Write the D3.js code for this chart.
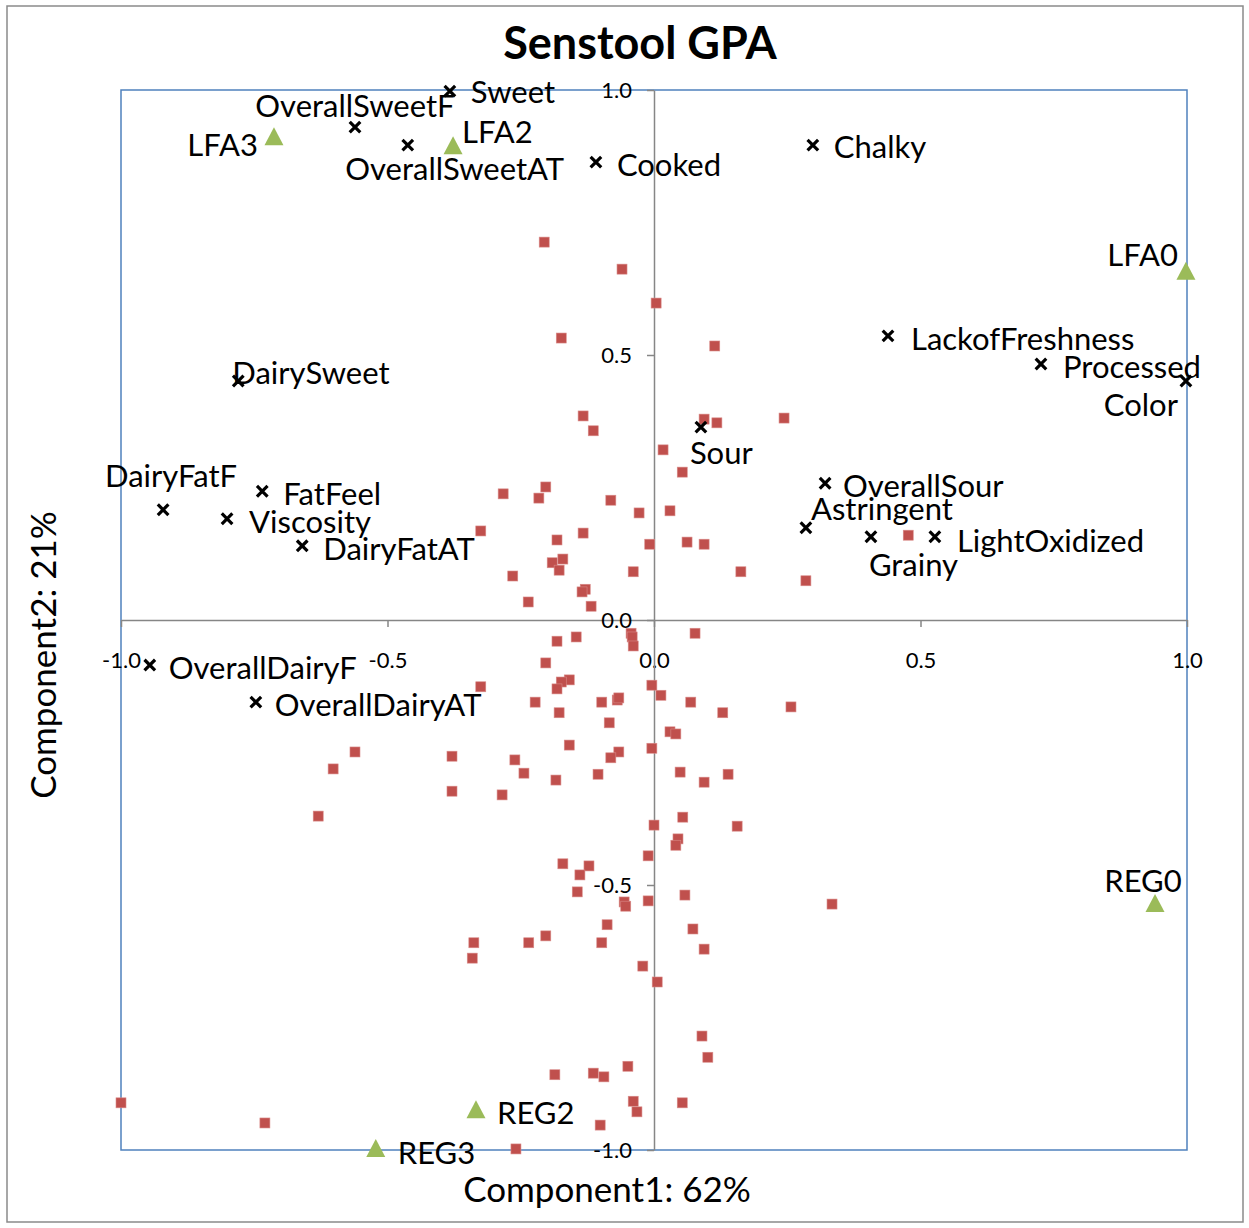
<!DOCTYPE html>
<html><head><meta charset="utf-8">
<script src="https://cdn.jsdelivr.net/npm/d3@7"></script>
<style>body{margin:0;background:#fff} text{font-family:Lato,"Open Sans",sans-serif;fill:#000}</style>
</head><body><svg id="c" width="1249" height="1228"></svg>
<script>
// ---------- DATA ----------
const chartTitle = "Senstool GPA";
const xAxisTitle = "Component1: 62%";
const yAxisTitle = "Component2: 21%";
const tickValues = [-1, -0.5, 0, 0.5, 1];
const tickLabels = ["-1.0", "-0.5", "0.0", "0.5", "1.0"];

const attributeNames = ["Sweet","OverallSweetF","OverallSweetAT","Cooked","Chalky","LackofFreshness","Processed","Color","DairySweet","Sour","OverallSour","Astringent","Grainy","LightOxidized","DairyFatF","FatFeel","Viscosity","DairyFatAT","OverallDairyF","OverallDairyAT"];
const attributeX = [-0.383,-0.561,-0.462,-0.109,0.298,0.439,0.726,0.998,-0.780,0.088,0.321,0.285,0.407,0.527,-0.921,-0.735,-0.801,-0.660,-0.946,-0.747];
const attributeY = [0.998,0.930,0.896,0.864,0.896,0.536,0.483,0.451,0.451,0.364,0.258,0.174,0.157,0.157,0.208,0.243,0.191,0.140,-0.085,-0.155];

const sampleNames = ["LFA0","LFA2","LFA3","REG0","REG2","REG3"];
const sampleX = [0.998,-0.377,-0.713,0.940,-0.334,-0.522];
const sampleY = [0.657,0.894,0.911,-0.536,-0.925,-0.998];

const scoreX = [-0.206,-0.060,0.004,-0.174,0.114,-0.133,-0.114,0.094,0.118,0.244,0.017,0.053,-0.203,-0.283,-0.216,-0.081,-0.028,0.030,-0.325,-0.133,-0.182,-0.008,0.062,0.094,0.477,-0.171,-0.191,-0.178,-0.265,-0.039,0.163,0.285,-0.129,-0.135,-0.236,-0.118,
-0.043,-0.041,-0.039,0.077,-0.182,-0.146,-0.203,-0.325,-0.159,-0.174,-0.182,-0.004,0.013,-0.223,-0.098,-0.069,-0.066,0.069,0.129,0.257,-0.178,-0.084,0.030,0.041,-0.159,-0.004,-0.066,-0.081,-0.261,-0.244,-0.105,0.049,0.139,-0.184,0.094,-0.285,-0.561,-0.602,-0.630,-0.379,-0.379,0.000,0.054,0.156,0.045,0.041,-0.011,-0.171,-0.122,-0.139,-0.144,0.058,-0.056,-0.053,-0.011,0.334,-0.088,0.073,-0.203,-0.338,-0.235,-0.098,0.094,-0.341,-0.021,0.006,0.090,0.101,-0.049,-0.186,-0.114,-0.094,-0.039,-0.032,0.053,-0.101,-0.259,-1.000,-0.730];
const scoreY = [0.713,0.662,0.598,0.532,0.517,0.385,0.357,0.379,0.372,0.381,0.321,0.279,0.251,0.238,0.230,0.226,0.202,0.206,0.168,0.164,0.151,0.143,0.147,0.143,0.160,0.115,0.108,0.094,0.083,0.091,0.091,0.074,0.058,0.053,0.034,0.026,
-0.025,-0.032,-0.049,-0.025,-0.040,-0.032,-0.081,-0.126,-0.113,-0.117,-0.130,-0.123,-0.142,-0.155,-0.155,-0.151,-0.147,-0.155,-0.175,-0.164,-0.175,-0.194,-0.211,-0.215,-0.236,-0.242,-0.249,-0.260,-0.264,-0.289,-0.291,-0.287,-0.291,-0.302,-0.306,-0.330,-0.249,-0.281,-0.370,-0.257,-0.323,-0.387,-0.372,-0.389,-0.413,-0.425,-0.445,-0.460,-0.464,-0.481,-0.513,-0.519,-0.532,-0.540,-0.530,-0.536,-0.575,-0.583,-0.596,-0.609,-0.609,-0.609,-0.621,-0.638,-0.653,-0.683,-0.785,-0.825,-0.842,-0.858,-0.855,-0.862,-0.908,-0.928,-0.911,-0.953,-0.998,-0.911,-0.949];

// ---------- LAYOUT (label placement, not data) ----------
const labelLayout = {
  Sweet:["start",21,1], OverallSweetF:["middle",0,-21], OverallSweetAT:["middle",47,24], Cooked:["start",21,3],
  Chalky:["start",21,2], LackofFreshness:["start",23,3], Processed:["start",22,3], Color:["end",-8,24],
  DairySweet:["start",-6,-8], Sour:["start",-11,26], OverallSour:["start",18,3], Astringent:["start",5,-19],
  Grainy:["start",-2,28], LightOxidized:["start",22,4], DairyFatF:["middle",8,-34], FatFeel:["start",21,3],
  Viscosity:["start",22,3], DairyFatAT:["start",21,3], OverallDairyF:["start",19,3], OverallDairyAT:["start",19,3],
  LFA3:["end",-16,8], LFA2:["start",9,-14], LFA0:["end",-8,-17], REG0:["middle",-12,-23], REG2:["start",21,3], REG3:["start",22,4]
};
const labelFont = 31;

const svg = d3.select("#c");
const L = 121, R = 1187, T = 90, B = 1150;
const x = d3.scaleLinear().domain([-1, 1]).range([L, R]);
const y = d3.scaleLinear().domain([-1, 1]).range([B, T]);

// outer chart border
svg.append("rect").attr("x", 7).attr("y", 6).attr("width", 1236).attr("height", 1216)
  .attr("fill", "#fff").attr("stroke", "#8a8a8a").attr("stroke-width", 1.5);

// plot area border
svg.append("rect").attr("x", L).attr("y", T).attr("width", R - L).attr("height", B - T)
  .attr("fill", "none").attr("stroke", "#4f81bd").attr("stroke-width", 1.5);

const fmt = v => tickLabels[tickValues.indexOf(v)];
// x axis through origin
const gx = svg.append("g").attr("transform", `translate(0,${y(0)})`)
  .call(d3.axisBottom(x).tickValues(tickValues).tickFormat(fmt).tickSize(7).tickSizeOuter(0));
gx.select(".domain").attr("stroke", "#868686").attr("stroke-width", 1.5);
gx.selectAll(".tick line").attr("stroke", "#868686").attr("stroke-width", 1.5);
gx.selectAll(".tick text").attr("y", 40).attr("dy", "0.35em").style("font-size", "22px").attr("fill", "#000");

const gy = svg.append("g").attr("transform", `translate(${x(0)},0)`)
  .call(d3.axisLeft(y).tickValues(tickValues).tickFormat(fmt).tickSize(7).tickSizeOuter(0));
gy.select(".domain").attr("stroke", "#868686").attr("stroke-width", 1.5);
gy.selectAll(".tick line").attr("stroke", "#868686").attr("stroke-width", 1.5);
gy.selectAll(".tick text").attr("x", -22).attr("dy", "0.35em").style("font-size", "22px").attr("fill", "#000");
svg.selectAll(".tick text").style("font-family", "Lato");

// score points (red squares)
const scores = scoreX.map((v, i) => ({ x: v, y: scoreY[i] }));
svg.append("g").selectAll("rect").data(scores).join("rect")
  .attr("x", d => x(d.x) - 5).attr("y", d => y(d.y) - 5).attr("width", 10).attr("height", 10)
  .attr("fill", "#c0504d").attr("stroke", "#d98a88").attr("stroke-width", 0.6);

// samples (green triangles)
const samples = sampleNames.map((n, i) => ({ name: n, x: sampleX[i], y: sampleY[i] }));
svg.append("g").selectAll("path").data(samples).join("path")
  .attr("d", d => { const cx = x(d.x), cy = y(d.y); return `M${cx},${cy - 10}L${cx + 9.5},${cy + 8}L${cx - 9.5},${cy + 8}Z`; })
  .attr("fill", "#9bbb59");

// attributes (black x)
const attrs = attributeNames.map((n, i) => ({ name: n, x: attributeX[i], y: attributeY[i] }));
svg.append("g").selectAll("path").data(attrs).join("path")
  .attr("d", d => { const cx = x(d.x), cy = y(d.y), s = 5.3; return `M${cx - s},${cy - s}L${cx + s},${cy + s}M${cx - s},${cy + s}L${cx + s},${cy - s}`; })
  .attr("stroke", "#000").attr("stroke-width", 3.2).attr("fill", "none");

// labels
const labeled = attrs.concat(samples);
svg.append("g").selectAll("text").data(labeled).join("text")
  .attr("text-anchor", d => labelLayout[d.name][0])
  .attr("x", d => x(d.x) + labelLayout[d.name][1])
  .attr("y", d => y(d.y) + labelLayout[d.name][2] + labelFont * 0.36)
  .style("font-size", labelFont + "px")
  .text(d => d.name);

// title
svg.append("text").attr("x", 640).attr("y", 59).attr("text-anchor", "middle")
  .style("font-size", "45px").style("font-weight", "bold").text(chartTitle);

// axis titles
svg.append("text").attr("x", 607).attr("y", 1202).attr("text-anchor", "middle")
  .style("font-size", "35px").text(xAxisTitle);
svg.append("text").attr("transform", "translate(56,655) rotate(-90)").attr("text-anchor", "middle")
  .style("font-size", "35px").text(yAxisTitle);
</script></body></html>
